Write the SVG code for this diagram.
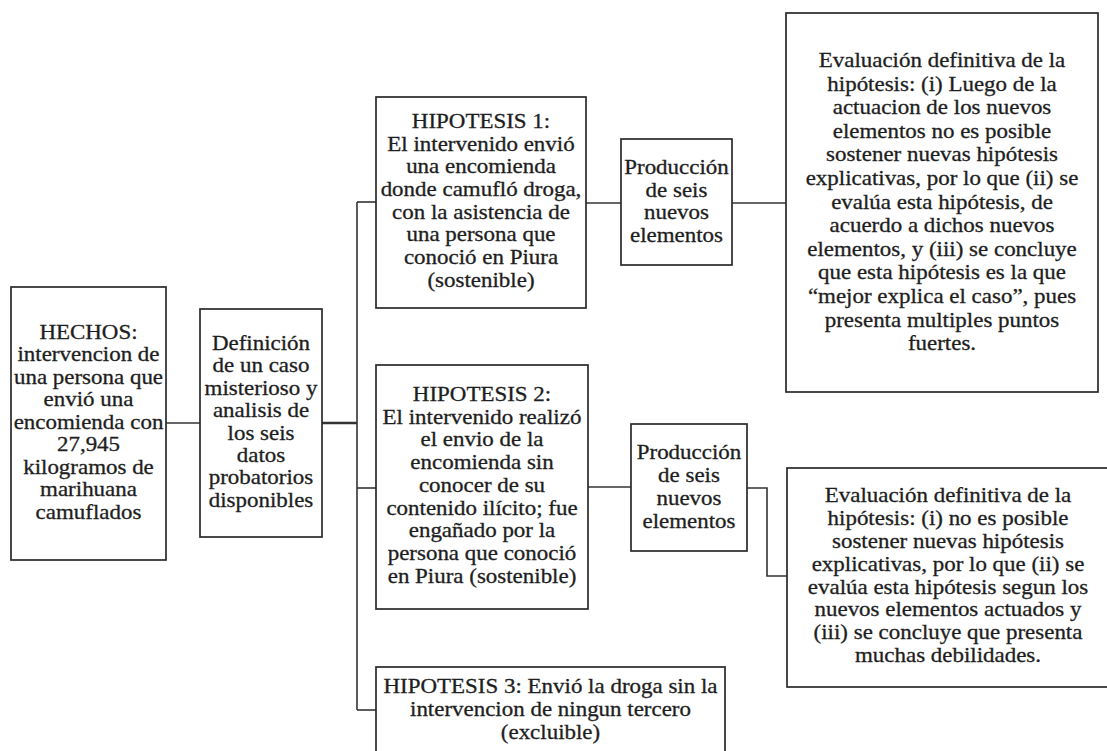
<svg xmlns="http://www.w3.org/2000/svg" width="1107" height="751" viewBox="0 0 1107 751">
<style>
.box{fill:#fff;stroke:#2a2a2a;stroke-width:1.7}
.t{font-family:'Liberation Serif','DejaVu Serif','Noto Serif',serif;font-size:20.5px;fill:#1e1e1e;stroke:#1e1e1e;stroke-width:0.3;text-anchor:middle}
.c{fill:none;stroke:#333;stroke-width:1.6}
.thick{stroke-width:2.6}
</style>
<rect width="1107" height="751" fill="#fff"/>
<g id="connectors">
<line class="c" x1="166" y1="423" x2="200" y2="423"/>
<line class="c thick" x1="322" y1="423" x2="357" y2="423"/>
<line class="c" x1="357" y1="202" x2="357" y2="710"/>
<line class="c" x1="357" y1="202" x2="376" y2="202"/>
<line class="c" x1="357" y1="488" x2="376" y2="488"/>
<line class="c" x1="357" y1="710" x2="376" y2="710"/>
<line class="c" x1="586" y1="203" x2="621" y2="203"/>
<line class="c" x1="732" y1="203" x2="786" y2="203"/>
<line class="c" x1="588" y1="487" x2="631" y2="487"/>
<polyline class="c" points="747,488 767,488 767,576 787,576"/>
</g>
<g id="hechos">
<rect class="box" x="11" y="287" width="155" height="273"/>
<g transform="translate(88.5,0) scale(1.12,1)"><text class="t"><tspan x="0" y="339">HECHOS:</tspan><tspan x="0" y="361.5">intervencion de</tspan><tspan x="0" y="384">una persona que</tspan><tspan x="0" y="406.5">envió una</tspan><tspan x="0" y="429">encomienda con</tspan><tspan x="0" y="451.5">27,945</tspan><tspan x="0" y="474">kilogramos de</tspan><tspan x="0" y="496.5">marihuana</tspan><tspan x="0" y="519">camuflados</tspan></text></g>
</g>
<g id="definicion">
<rect class="box" x="200" y="309" width="122" height="228"/>
<g transform="translate(261,0) scale(1.12,1)"><text class="t"><tspan x="0" y="350">Definición</tspan><tspan x="0" y="372.4">de un caso</tspan><tspan x="0" y="394.8">misterioso y</tspan><tspan x="0" y="417.2">analisis de</tspan><tspan x="0" y="439.6">los seis</tspan><tspan x="0" y="462">datos</tspan><tspan x="0" y="484.4">probatorios</tspan><tspan x="0" y="506.8">disponibles</tspan></text></g>
</g>
<g id="hipotesis1">
<rect class="box" x="376" y="97" width="210" height="211"/>
<g transform="translate(481,0) scale(1.12,1)"><text class="t"><tspan x="0" y="128">HIPOTESIS 1:</tspan><tspan x="0" y="150.7">El intervenido envió</tspan><tspan x="0" y="173.4">una encomienda</tspan><tspan x="0" y="196.1">donde camufló droga,</tspan><tspan x="0" y="218.8">con la asistencia de</tspan><tspan x="0" y="241.5">una persona que</tspan><tspan x="0" y="264.2">conoció en Piura</tspan><tspan x="0" y="286.9">(sostenible)</tspan></text></g>
</g>
<g id="produccion1">
<rect class="box" x="621" y="139" width="111" height="126"/>
<g transform="translate(676.5,0) scale(1.12,1)"><text class="t"><tspan x="0" y="174">Producción</tspan><tspan x="0" y="196.7">de seis</tspan><tspan x="0" y="219.4">nuevos</tspan><tspan x="0" y="242.1">elementos</tspan></text></g>
</g>
<g id="evaluacion1">
<rect class="box" x="786" y="13" width="312" height="379"/>
<g transform="translate(942,0) scale(1.12,1)"><text class="t"><tspan x="0" y="67">Evaluación definitiva de la</tspan><tspan x="0" y="90.6">hipótesis: (i) Luego de la</tspan><tspan x="0" y="114.2">actuacion de los nuevos</tspan><tspan x="0" y="137.8">elementos no es posible</tspan><tspan x="0" y="161.4">sostener nuevas hipótesis</tspan><tspan x="0" y="185">explicativas, por lo que (ii) se</tspan><tspan x="0" y="208.6">evalúa esta hipótesis, de</tspan><tspan x="0" y="232.2">acuerdo a dichos nuevos</tspan><tspan x="0" y="255.8">elementos, y (iii) se concluye</tspan><tspan x="0" y="279.4">que esta hipótesis es la que</tspan><tspan x="0" y="303">“mejor explica el caso”, pues</tspan><tspan x="0" y="326.6">presenta multiples puntos</tspan><tspan x="0" y="350.2">fuertes.</tspan></text></g>
</g>
<g id="hipotesis2">
<rect class="box" x="376" y="365" width="212" height="244"/>
<g transform="translate(482,0) scale(1.12,1)"><text class="t"><tspan x="0" y="401">HIPOTESIS 2:</tspan><tspan x="0" y="423.75">El intervenido realizó</tspan><tspan x="0" y="446.5">el envio de la</tspan><tspan x="0" y="469.25">encomienda sin</tspan><tspan x="0" y="492">conocer de su</tspan><tspan x="0" y="514.75">contenido ilícito; fue</tspan><tspan x="0" y="537.5">engañado por la</tspan><tspan x="0" y="560.25">persona que conoció</tspan><tspan x="0" y="583">en Piura (sostenible)</tspan></text></g>
</g>
<g id="produccion2">
<rect class="box" x="631" y="424" width="116" height="127"/>
<g transform="translate(689,0) scale(1.12,1)"><text class="t"><tspan x="0" y="459">Producción</tspan><tspan x="0" y="482">de seis</tspan><tspan x="0" y="505">nuevos</tspan><tspan x="0" y="528">elementos</tspan></text></g>
</g>
<g id="evaluacion2">
<rect class="box" x="787" y="468" width="322" height="219"/>
<g transform="translate(948,0) scale(1.12,1)"><text class="t"><tspan x="0" y="502">Evaluación definitiva de la</tspan><tspan x="0" y="524.9">hipótesis: (i) no es posible</tspan><tspan x="0" y="547.8">sostener nuevas hipótesis</tspan><tspan x="0" y="570.7">explicativas, por lo que (ii) se</tspan><tspan x="0" y="593.6">evalúa esta hipótesis segun los</tspan><tspan x="0" y="616.5">nuevos elementos actuados y</tspan><tspan x="0" y="639.4">(iii) se concluye que presenta</tspan><tspan x="0" y="662.3">muchas debilidades.</tspan></text></g>
</g>
<g id="hipotesis3">
<rect class="box" x="376" y="667" width="349" height="100"/>
<g transform="translate(550.5,0) scale(1.12,1)"><text class="t"><tspan x="0" y="693">HIPOTESIS 3: Envió la droga sin la</tspan><tspan x="0" y="716">intervencion de ningun tercero</tspan><tspan x="0" y="739">(excluible)</tspan></text></g>
</g>
</svg>
